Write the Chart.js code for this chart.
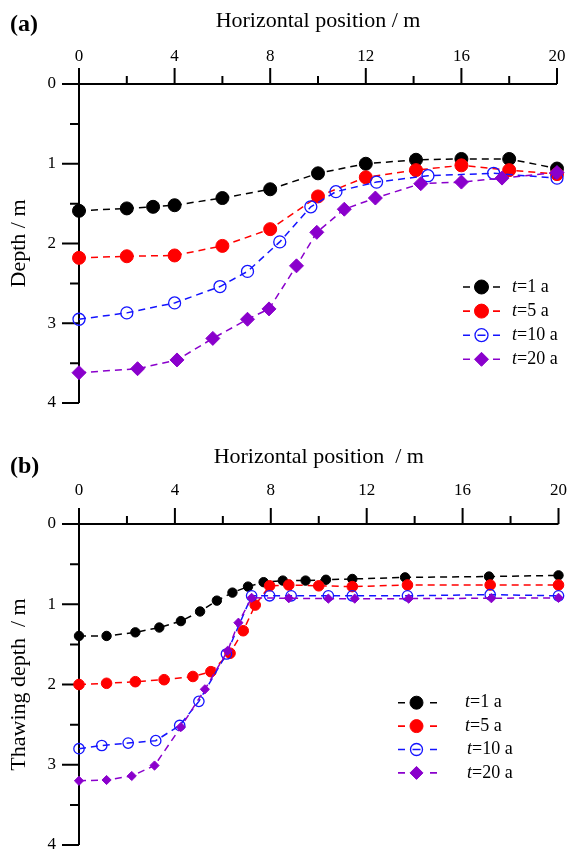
<!DOCTYPE html>
<html>
<head>
<meta charset="utf-8">
<script src="https://cdn.jsdelivr.net/npm/chart.js@4.4.1/dist/chart.umd.min.js"></script>
<style>
  html, body { margin: 0; padding: 0; background: #fff; overflow: hidden; }
  #wrap { position: relative; width: 567px; height: 853px; }
  canvas { position: absolute; left: 0; }
  #chartA { top: 0; }
  #chartB { top: 430px; }
</style>
</head>
<body>
<div id="wrap">
  <canvas id="chartA" width="567" height="430"></canvas>
  <canvas id="chartB" width="567" height="430"></canvas>
</div>
<script>
// ---- data ----
const legendTimes = ['1', '5', '10', '20'];   // t = ... a
const xLabelStep = 4;                         // labelled every 4 m, ticks every 2 m

// (a) depth
const posA1   = [0, 2, 3.1, 4, 6, 8, 10, 12, 14.1, 16, 18, 20];
const depthA1 = [1.59, 1.56, 1.54, 1.52, 1.43, 1.32, 1.12, 1.0, 0.95, 0.94, 0.94, 1.06];
const posA5   = [0, 2, 4, 6, 8, 10, 12, 14.1, 16, 18, 20];
const depthA5 = [2.18, 2.16, 2.15, 2.03, 1.82, 1.41, 1.17, 1.08, 1.02, 1.08, 1.13];
const posA10   = [0, 2, 4, 5.9, 7.05, 8.4, 9.7, 10.75, 12.45, 14.6, 17.35, 20];
const depthA10 = [2.95, 2.87, 2.745, 2.54, 2.35, 1.98, 1.54, 1.35, 1.23, 1.15, 1.12, 1.18];
const posA20   = [0, 2.45, 4.1, 5.6, 7.05, 7.95, 9.1, 9.95, 11.1, 12.4, 14.3, 16, 17.7, 20];
const depthA20 = [3.62, 3.57, 3.46, 3.19, 2.95, 2.82, 2.28, 1.86, 1.57, 1.43, 1.25, 1.23, 1.18, 1.11];

// (b) thawing depth
const posB1   = [0, 1.15, 2.35, 3.35, 4.25, 5.05, 5.75, 6.4, 7.05, 7.7, 8.5, 9.45, 10.3, 11.4, 13.6, 17.1, 20];
const depthB1 = [1.395, 1.395, 1.35, 1.29, 1.21, 1.09, 0.955, 0.855, 0.78, 0.725, 0.705, 0.705, 0.695, 0.685, 0.665, 0.655, 0.64];
const posB5   = [0, 1.15, 2.35, 3.55, 4.75, 5.5, 6.3, 6.85, 7.35, 7.95, 8.75, 10.0, 11.4, 13.7, 17.15, 20];
const depthB5 = [2.0, 1.985, 1.965, 1.94, 1.9, 1.84, 1.61, 1.33, 1.01, 0.77, 0.76, 0.77, 0.78, 0.76, 0.76, 0.76];
const posB10   = [0, 0.95, 2.05, 3.2, 4.2, 5.0, 6.15, 7.2, 7.95, 8.85, 10.4, 11.4, 13.7, 17.15, 20];
const depthB10 = [2.8, 2.76, 2.73, 2.7, 2.51, 2.21, 1.62, 0.895, 0.895, 0.895, 0.895, 0.895, 0.895, 0.88, 0.895];
const posB20   = [0, 1.15, 2.2, 3.15, 4.25, 5.25, 6.2, 6.65, 7.2, 8.75, 10.4, 11.5, 13.75, 17.2, 20];
const depthB20 = [3.2, 3.19, 3.14, 3.01, 2.53, 2.06, 1.58, 1.23, 0.92, 0.925, 0.93, 0.93, 0.93, 0.925, 0.92];

const colors = ['#000000', '#ff0000', '#1414ff', '#8a00cc'];
const SERIF = '"Liberation Serif", "Times New Roman", serif';

Chart.defaults.font.family = SERIF;
Chart.defaults.color = '#000';

// one dashed series with its marker
function series(xs, ys, i, radius) {
    const open = i === 2;
    return {
        data: xs.map((x, k) => ({ x: x, y: ys[k] })),
        showLine: true,
        borderColor: colors[i],
        borderWidth: 1.5,
        borderDash: [7, 5],
        tension: 0,
        pointStyle: i === 3 ? 'rectRot' : 'circle',
        pointRadius: radius,
        pointHoverRadius: radius,
        pointBackgroundColor: open ? 'rgba(0,0,0,0)' : colors[i],
        pointBorderColor: colors[i],
        pointBorderWidth: open ? 1.3 : 1,
        order: 3 - i,
        clip: false
    };
}

// axis lines + long/short ticks (ticks point outward)
const frameAxes = {
    id: 'frameAxes',
    beforeDatasetsDraw(chart) {
        const { ctx, chartArea: a, scales: { x, y } } = chart;
        ctx.save();
        ctx.strokeStyle = '#000';
        ctx.lineWidth = 2;
        ctx.beginPath();
        ctx.moveTo(a.left, a.top); ctx.lineTo(a.right, a.top);
        ctx.moveTo(a.left, a.top); ctx.lineTo(a.left, a.bottom);
        x.ticks.forEach(t => {
            const px = x.getPixelForValue(t.value);
            const len = t.value % xLabelStep === 0 ? 16 : 8;
            ctx.moveTo(px, a.top); ctx.lineTo(px, a.top - len);
        });
        y.ticks.forEach(t => {
            const py = y.getPixelForValue(t.value);
            const len = Number.isInteger(t.value) ? 17 : 9;
            ctx.moveTo(a.left, py); ctx.lineTo(a.left - len, py);
        });
        ctx.stroke();
        ctx.restore();
    }
};

// legend "- o -  t=1 a" plus the panel letter
const sideLegend = {
    id: 'sideLegend',
    afterDraw(chart, args, opts) {
        const ctx = chart.ctx;
        ctx.save();
        ctx.font = 'bold 24px ' + SERIF;
        ctx.textBaseline = 'middle';
        ctx.fillStyle = '#000';
        ctx.fillText(opts.panel, 10, opts.panelY);

        chart.data.datasets.forEach((ds, i) => {
            const yy = opts.top + i * opts.step;
            ctx.strokeStyle = ds.borderColor;
            ctx.lineWidth = 1.6;
            ctx.beginPath();
            [[opts.x0, opts.x0 + 7], [opts.mx - 4, opts.mx + 4], [opts.x1 - 7, opts.x1]].forEach(s => {
                ctx.moveTo(s[0], yy); ctx.lineTo(s[1], yy);
            });
            ctx.stroke();

            ctx.fillStyle = ds.pointBackgroundColor;
            ctx.strokeStyle = ds.pointBorderColor;
            ctx.lineWidth = ds.pointBorderWidth;
            Chart.helpers.drawPoint(ctx, {
                pointStyle: ds.pointStyle,
                radius: opts.radius[i],
                rotation: 0,
                borderWidth: ds.pointBorderWidth
            }, opts.mx, yy);

            const tx = opts.tx[i];
            ctx.fillStyle = '#000';
            ctx.textAlign = 'left';
            ctx.font = 'italic 18px ' + SERIF;
            ctx.fillText('t', tx, yy);
            const w = ctx.measureText('t').width;
            ctx.font = '18px ' + SERIF;
            ctx.fillText('=' + legendTimes[i] + ' a', tx + w, yy);
        });
        ctx.restore();
    }
};

// invisible tick marks only push the labels away from the axis
function hiddenGrid(len) {
    return { display: true, drawOnChartArea: false, drawTicks: true, tickLength: len, color: 'rgba(0,0,0,0)' };
}

function makeChart(id, datasets, cfg) {
    return new Chart(document.getElementById(id), {
        type: 'scatter',
        data: { datasets: datasets },
        options: {
            responsive: false,
            animation: false,
            events: [],
            layout: { padding: { left: 0, top: 0, right: cfg.padRight, bottom: cfg.padBottom } },
            scales: {
                x: {
                    type: 'linear',
                    position: 'top',
                    min: 0, max: 20,
                    afterFit: s => { s.height = cfg.xHeight; },
                    grid: hiddenGrid(cfg.xLabelGap),
                    border: { display: false },
                    ticks: {
                        stepSize: 2,
                        autoSkip: false,
                        maxRotation: 0,
                        padding: 0,
                        font: { size: 17 },
                        callback: v => (v % xLabelStep === 0 ? v : '')
                    },
                    title: {
                        display: true,
                        text: cfg.xTitle,
                        font: { size: 22 },
                        padding: { top: cfg.xTitlePad, bottom: 0 }
                    }
                },
                y: {
                    type: 'linear',
                    reverse: true,
                    min: 0, max: 4,
                    afterFit: s => { s.width = 79; },
                    grid: hiddenGrid(23),
                    border: { display: false },
                    ticks: {
                        stepSize: 0.5,
                        autoSkip: false,
                        padding: 0,
                        font: { size: 17 },
                        callback: v => (Number.isInteger(v) ? v : '')
                    },
                    title: {
                        display: true,
                        text: cfg.yTitle,
                        font: { size: 22 },
                        padding: { top: 6, bottom: 0 }
                    }
                }
            },
            plugins: {
                legend: { display: false },
                tooltip: { enabled: false },
                sideLegend: cfg.legend
            }
        },
        plugins: [frameAxes, sideLegend]
    });
}

makeChart('chartA', [
    series(posA1, depthA1, 0, 6.5),
    series(posA5, depthA5, 1, 6.5),
    series(posA10, depthA10, 2, 6),
    series(posA20, depthA20, 3, 7)
], {
    xTitle: 'Horizontal position / m',
    yTitle: 'Depth / m',
    xHeight: 84,
    xTitlePad: 8,
    xLabelGap: 17,
    padRight: 10,
    padBottom: 27,
    legend: {
        panel: '(a)', panelY: 25,
        top: 287, step: 24.1,
        x0: 463, x1: 500, mx: 481.5,
        tx: [512, 512, 512, 512],
        radius: [7, 7, 6.5, 7]
    }
});

makeChart('chartB', [
    series(posB1, depthB1, 0, 4.7),
    series(posB5, depthB5, 1, 5.3),
    series(posB10, depthB10, 2, 5.2),
    series(posB20, depthB20, 3, 4.6)
], {
    xTitle: 'Horizontal position  / m',
    yTitle: 'Thawing depth  / m',
    xHeight: 94,
    xTitlePad: 14,
    xLabelGap: 23,
    padRight: 7,
    padBottom: 15,
    legend: {
        panel: '(b)', panelY: 37,
        top: 272.7, step: 23.4,
        x0: 398, x1: 437, mx: 416.5,
        tx: [465, 465, 467, 467],
        radius: [6.5, 6.5, 6, 6.5]
    }
});
</script>
</body>
</html>
